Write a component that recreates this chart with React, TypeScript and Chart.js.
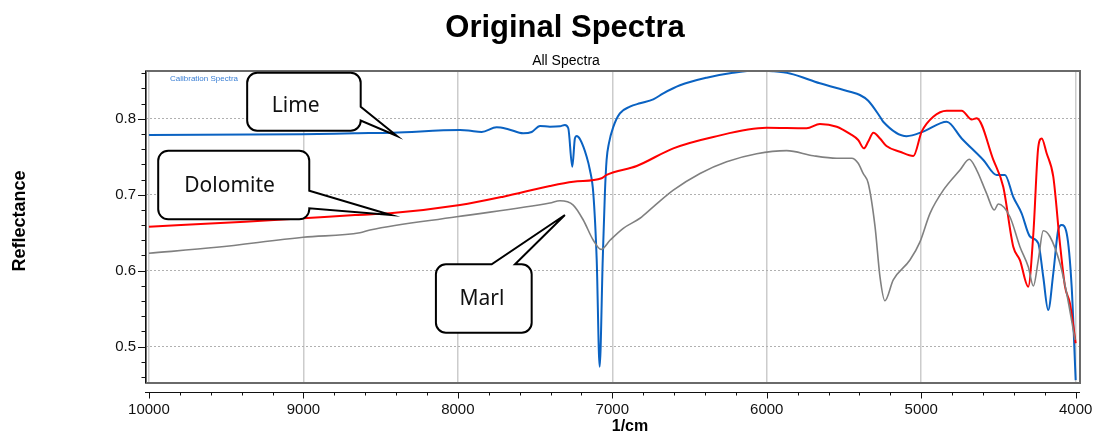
import React, { useEffect, useRef } from 'react';
import { Chart, registerables } from 'chart.js';

Chart.register(...registerables);

// ---- Data (wavenumber in 1/cm, reflectance) ----
const limeWn = [10000, 9011, 8666, 8420, 7986, 7933, 7846, 7749, 7674, 7577, 7522, 7468, 7404, 7339, 7307, 7285, 7259, 7242, 7231, 7209, 7166, 7145, 7123, 7101, 7082, 7062, 7048, 7037, 7022, 6994, 6951, 6886, 6821, 6735, 6670, 6562, 6389, 6219, 6065, 5960, 5850, 5656, 5461, 5397, 5343, 5267, 5246, 5094, 4987, 4835, 4738, 4598, 4512, 4458, 4404, 4350, 4296, 4242, 4210, 4178, 4145, 4113, 4091, 4058, 4026, 4000];
const limeR = [0.7786, 0.7795, 0.7808, 0.7816, 0.7851, 0.7845, 0.7825, 0.7887, 0.7862, 0.7808, 0.7825, 0.7904, 0.7895, 0.79, 0.7917, 0.7874, 0.7368, 0.7742, 0.7772, 0.7729, 0.75, 0.7325, 0.7018, 0.614, 0.4737, 0.614, 0.702, 0.7457, 0.7676, 0.789, 0.807, 0.8158, 0.8203, 0.8255, 0.8334, 0.844, 0.854, 0.8605, 0.8635, 0.8625, 0.8595, 0.8466, 0.8355, 0.8312, 0.8237, 0.8026, 0.796, 0.777, 0.783, 0.796, 0.774, 0.7457, 0.726, 0.726, 0.697, 0.6755, 0.645, 0.636, 0.592, 0.5483, 0.5966, 0.6536, 0.66, 0.649, 0.579, 0.456];

const dolomiteWn = [10000, 9378, 9001, 8666, 8440, 7986, 7706, 7404, 7253, 7069, 7037, 6842, 6605, 6346, 6001, 5742, 5656, 5547, 5461, 5408, 5371, 5343, 5310, 5267, 5225, 5138, 5051, 4997, 4922, 4835, 4738, 4673, 4641, 4533, 4469, 4404, 4361, 4307, 4274, 4242, 4220, 4188, 4145, 4102, 4069, 4037, 4000];
const dolomiteR = [0.6579, 0.6645, 0.669, 0.6733, 0.6755, 0.6864, 0.6974, 0.7114, 0.717, 0.7216, 0.726, 0.7378, 0.761, 0.776, 0.788, 0.7874, 0.793, 0.7895, 0.78, 0.772, 0.761, 0.77, 0.7816, 0.774, 0.764, 0.7566, 0.751, 0.783, 0.8026, 0.8105, 0.8105, 0.799, 0.8005, 0.7457, 0.7105, 0.6316, 0.614, 0.579, 0.649, 0.763, 0.774, 0.7545, 0.7237, 0.636, 0.579, 0.557, 0.5045];

const marlWn = [10000, 9562, 9001, 8634, 8569, 8008, 7404, 7339, 7253, 7188, 7123, 7073, 7015, 6929, 6821, 6735, 6605, 6432, 6260, 6065, 5871, 5699, 5547, 5450, 5408, 5376, 5343, 5299, 5267, 5235, 5181, 5073, 5008, 4943, 4857, 4749, 4689, 4641, 4577, 4527, 4501, 4426, 4361, 4307, 4274, 4242, 4210, 4167, 4102, 4058, 4004];
const marlR = [0.6229, 0.6308, 0.644, 0.65, 0.6535, 0.671, 0.689, 0.692, 0.6864, 0.6667, 0.64, 0.628, 0.64, 0.6558, 0.669, 0.684, 0.706, 0.728, 0.7434, 0.754, 0.758, 0.7513, 0.748, 0.748, 0.7413, 0.728, 0.715, 0.658, 0.592, 0.5605, 0.5878, 0.614, 0.638, 0.6755, 0.706, 0.7325, 0.7466, 0.7325, 0.7018, 0.6799, 0.6878, 0.671, 0.6316, 0.6053, 0.5799, 0.614, 0.6526, 0.645, 0.6097, 0.57, 0.5088];

const xTickValues = [10000, 9000, 8000, 7000, 6000, 5000, 4000];
const yTickValues = [0.5, 0.6, 0.7, 0.8];

const calloutTexts = ['Lime', 'Dolomite', 'Marl'];

// Callout geometry, in data units (wavenumber, reflectance)
const callouts = [
  { box: [9364, 8629, 0.8605, 0.7842], edge: 'right', base: [0.8158, 0.7976], tip: [8394, 0.7772], label: [9050, 0.8167] },
  { box: [9940, 8962, 0.7579, 0.6676], edge: 'right', base: [0.7053, 0.6821], tip: [8433, 0.6733], label: [9478, 0.7117] },
  { box: [8142, 7522, 0.6084, 0.5184], edge: 'top', base: [7781, 7630], tip: [7307, 0.6733], label: [7844, 0.5632] },
];

const SANS = "'Liberation Sans', Arial, sans-serif";

const decorPlugin = {
  id: 'decor',
  afterDatasetsDraw(chart: any) {
    const { ctx, chartArea: a, scales } = chart;
    const x = scales.x;
    const y = scales.y;
    ctx.save();
    // plot frame
    ctx.strokeStyle = '#6a6a6a';
    ctx.lineWidth = 2;
    ctx.strokeRect(a.left, a.top, a.right - a.left, a.bottom - a.top);
    // y axis line
    ctx.strokeStyle = '#111';
    ctx.lineWidth = 1;
    ctx.beginPath();
    ctx.moveTo(a.left - 0.5, a.top);
    ctx.lineTo(a.left - 0.5, a.bottom);
    ctx.stroke();
    // y ticks (major 0.1, minor 0.02)
    for (let i = 23; i <= 43; i++) {
      const v = i / 50;
      const py = Math.round(y.getPixelForValue(v)) + 0.5;
      if (py < a.top || py > a.bottom) continue;
      const major = i % 5 === 0;
      ctx.beginPath();
      ctx.moveTo(a.left - 0.5, py);
      ctx.lineTo(a.left - (major ? 8 : 4.5), py);
      ctx.stroke();
    }
    // x axis line below frame
    const axY = a.bottom + 9.5;
    ctx.beginPath();
    ctx.moveTo(a.left - 1, axY);
    ctx.lineTo(a.right, axY);
    ctx.stroke();
    for (let w = 4000; w <= 10000; w += 200) {
      const px = Math.round(x.getPixelForValue(w)) + 0.5;
      const major = w % 1000 === 0;
      ctx.beginPath();
      ctx.moveTo(px, axY);
      ctx.lineTo(px, axY + (major ? 6 : 3));
      ctx.stroke();
    }

    // legend-ish text
    ctx.fillStyle = '#3a7fd4';
    ctx.font = `8px ${SANS}`;
    ctx.textAlign = 'left';
    ctx.textBaseline = 'middle';
    ctx.fillText('Calibration Spectra', a.left + 24, a.top + 8);

    // callouts
    callouts.forEach((c, i) => {
      const l = x.getPixelForValue(c.box[0]);
      const r = x.getPixelForValue(c.box[1]);
      const t = y.getPixelForValue(c.box[2]);
      const b = y.getPixelForValue(c.box[3]);
      const tx = x.getPixelForValue(c.tip[0]);
      const ty = y.getPixelForValue(c.tip[1]);
      const rad = 10;
      ctx.beginPath();
      ctx.moveTo(l + rad, t);
      if (c.edge === 'top') {
        ctx.lineTo(x.getPixelForValue(c.base[0]), t);
        ctx.lineTo(tx, ty);
        ctx.lineTo(x.getPixelForValue(c.base[1]), t);
      }
      ctx.lineTo(r - rad, t);
      ctx.arcTo(r, t, r, t + rad, rad);
      if (c.edge === 'right') {
        ctx.lineTo(r, y.getPixelForValue(c.base[0]));
        ctx.lineTo(tx, ty);
        ctx.lineTo(r, y.getPixelForValue(c.base[1]));
      }
      ctx.lineTo(r, b - rad);
      ctx.arcTo(r, b, r - rad, b, rad);
      ctx.lineTo(l + rad, b);
      ctx.arcTo(l, b, l, b - rad, rad);
      ctx.lineTo(l, t + rad);
      ctx.arcTo(l, t, l + rad, t, rad);
      ctx.closePath();
      ctx.fillStyle = '#ffffff';
      ctx.fill();
      ctx.strokeStyle = '#000';
      ctx.lineWidth = 2;
      ctx.lineJoin = 'miter';
      ctx.stroke();
      ctx.fillStyle = '#111';
      ctx.font = "21px 'Noto Sans', 'Open Sans', sans-serif";
      ctx.textAlign = 'center';
      ctx.textBaseline = 'middle';
      ctx.fillText(calloutTexts[i], x.getPixelForValue(c.label[0]), y.getPixelForValue(c.label[1]));
    });
    ctx.restore();
  },
  afterDraw(chart: any) {
    const { ctx } = chart;
    ctx.save();
    ctx.fillStyle = '#000';
    ctx.textAlign = 'center';
    ctx.textBaseline = 'alphabetic';
    ctx.font = `bold 31px ${SANS}`;
    ctx.fillText('Original Spectra', 565, 37);
    ctx.font = `14px ${SANS}`;
    ctx.fillText('All Spectra', 566, 65);
    ctx.font = `bold 16px ${SANS}`;
    ctx.fillText('1/cm', 630, 431);
    ctx.translate(25, 221);
    ctx.rotate(-Math.PI / 2);
    ctx.font = `bold 18px ${SANS}`;
    ctx.fillText('Reflectance', 0, 0);
    ctx.restore();
  },
};

export default function App() {
  const ref = useRef<HTMLCanvasElement | null>(null);
  useEffect(() => {
    if (!ref.current) return;
    const toPts = (xs: number[], ys: number[]) => xs.map((v, i) => ({ x: v, y: ys[i] }));
    const chart = new Chart(ref.current, {
      type: 'line',
      data: {
        datasets: [
          { label: 'Marl', data: toPts(marlWn, marlR), borderColor: '#808080', borderWidth: 1.6, pointRadius: 0, cubicInterpolationMode: 'monotone', fill: false },
          { label: 'Dolomite', data: toPts(dolomiteWn, dolomiteR), borderColor: '#ff0000', borderWidth: 2, pointRadius: 0, cubicInterpolationMode: 'monotone', fill: false },
          { label: 'Lime', data: toPts(limeWn, limeR), borderColor: '#0a62c2', borderWidth: 2, pointRadius: 0, cubicInterpolationMode: 'monotone', fill: false },
        ],
      },
      options: {
        animation: false,
        responsive: true,
        maintainAspectRatio: false,
        layout: { padding: { top: 71, right: 14, bottom: 0, left: 0 } },
        plugins: { legend: { display: false }, tooltip: { enabled: false }, title: { display: false } },
        scales: {
          x: {
            type: 'linear',
            reverse: true,
            min: 3972,
            max: 10019,
            afterBuildTicks: (s: any) => { s.ticks = xTickValues.map((v) => ({ value: v })); },
            afterFit: (s: any) => { s.height = 51; s.paddingLeft = 0; s.paddingRight = 0; },
            grid: { color: '#cccccc', lineWidth: 1.5, drawTicks: false },
            border: { display: false },
            ticks: { padding: 18, autoSkip: false, maxRotation: 0, color: '#111', font: { family: SANS, size: 15 }, callback: (v: any) => String(v) },
          },
          y: {
            type: 'linear',
            min: 0.4522,
            max: 0.8628,
            afterBuildTicks: (s: any) => { s.ticks = yTickValues.map((v) => ({ value: v })); },
            afterFit: (s: any) => { s.width = 146; s.paddingTop = 0; s.paddingBottom = 0; },
            grid: { color: '#b0b0b0', lineWidth: 1, drawTicks: false },
            border: { display: false, dash: [2, 2] },
            ticks: { padding: 10, color: '#111', font: { family: SANS, size: 15 }, callback: (v: any) => Number(v).toFixed(1) },
          },
        },
      },
      plugins: [decorPlugin],
    });
    return () => chart.destroy();
  }, []);
  return (
    <div style={{ position: 'fixed', left: 0, top: 0, width: 1094, height: 434, background: '#fff' }}>
      <canvas ref={ref} />
    </div>
  );
}
